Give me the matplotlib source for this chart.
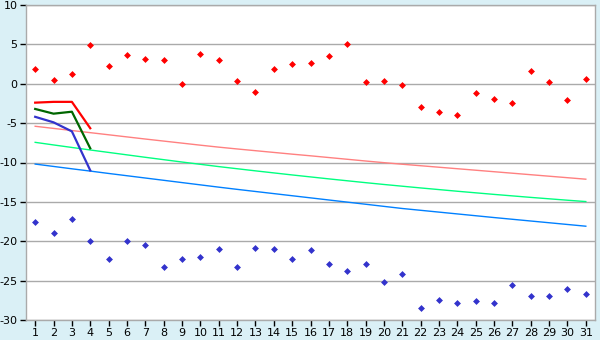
import matplotlib
matplotlib.use('Agg')
import matplotlib.pyplot as plt
import numpy as np

plt.rcParams['axes.unicode_minus'] = False
plt.rcParams['font.family'] = ['DejaVu Sans']

days = list(range(1, 32))

# 散点
red_pts = [1.9, 0.5, 1.2, 4.9, 2.3, 3.7, 3.2, 3.0, 0.0, 3.8,
           3.0, 0.4, -1.0, 1.9, 2.5, 2.6, 3.5, 5.1, 0.2, 0.4,
           -0.1, -2.9, -3.6, -4.0, -1.2, -1.9, -2.4, 1.6, 0.2, -2.0, 0.6]
blue_pts = [-17.6, -19.0, -17.2, -20.0, -22.2, -20.0, -20.5, -23.3, -22.3, -22.0,
            -21.0, -23.3, -20.8, -21.0, -22.2, -21.1, -22.9, -23.8, -22.9, -25.2,
            -24.1, -28.5, -27.4, -27.8, -27.6, -27.8, -25.5, -27.0, -27.0, -26.0, -26.7]

# 趋势线
pink_line = [-5.40, -5.67, -5.94, -6.21, -6.48, -6.75, -7.02, -7.28, -7.54, -7.80,
             -8.05, -8.28, -8.50, -8.72, -8.94, -9.15, -9.37, -9.59, -9.81, -10.02,
             -10.22, -10.41, -10.60, -10.79, -10.98, -11.17, -11.36, -11.55, -11.74, -11.93, -12.12]
green_line = [-7.44, -7.77, -8.09, -8.41, -8.72, -9.03, -9.34, -9.64, -9.94, -10.23,
              -10.52, -10.79, -11.06, -11.32, -11.58, -11.83, -12.08, -12.32, -12.56, -12.79,
              -13.01, -13.23, -13.44, -13.65, -13.85, -14.05, -14.24, -14.43, -14.61, -14.79, -14.96]
lblue_line = [-10.20, -10.50, -10.80, -11.09, -11.39, -11.68, -11.97, -12.26, -12.55, -12.84,
              -13.13, -13.41, -13.68, -13.95, -14.22, -14.49, -14.76, -15.03, -15.30, -15.57,
              -15.84, -16.07, -16.30, -16.53, -16.76, -16.99, -17.21, -17.43, -17.65, -17.87, -18.09]

# 前几天的粗线
short_days = [1, 2, 3, 4]
red_short = [-2.4, -2.3, -2.3, -5.65]
green_short = [-3.2, -3.8, -3.55, -8.2]
blue_short = [-4.2, -4.9, -6.05, -11.0]

bg = '#DAF0F6'
fig = plt.figure(figsize=(6, 3.4), dpi=100, facecolor=bg)
ax = fig.add_axes([26 / 600, 1 - 320 / 340, 569 / 600, 315 / 340])
ax.set_facecolor('white')

ax.plot(days, pink_line, color='#FF8080', lw=1.0)
ax.plot(days, green_line, color='#00FF80', lw=1.0)
ax.plot(days, lblue_line, color='#0080FF', lw=1.0)

ax.plot(short_days, red_short, color='#FF0000', lw=1.6)
ax.plot(short_days, green_short, color='#006600', lw=1.6)
ax.plot(short_days, blue_short, color='#3333CC', lw=1.6)

ax.plot(days, red_pts, ls='none', marker='D', ms=3.0, color='#FF0000', mec='#FF0000', mew=0.5)
ax.plot(days, blue_pts, ls='none', marker='D', ms=3.0, color='#3333CC', mec='#3333CC', mew=0.5)

ax.set_xlim(0.5, 31.5)
ax.set_ylim(-30, 10)
ax.set_xticks(days)
ax.set_yticks(np.arange(-30, 11, 5))
ax.yaxis.grid(True, color='#AAAAAA', lw=1.0)
ax.set_axisbelow(True)
for s in ax.spines.values():
    s.set_color('#AAAAAA')
    s.set_linewidth(1.0)
ax.tick_params(axis='both', colors='black', labelcolor='black', labelsize=8,
               length=4, width=1, pad=2)

fig.savefig('out.png', dpi=100, facecolor=bg)
